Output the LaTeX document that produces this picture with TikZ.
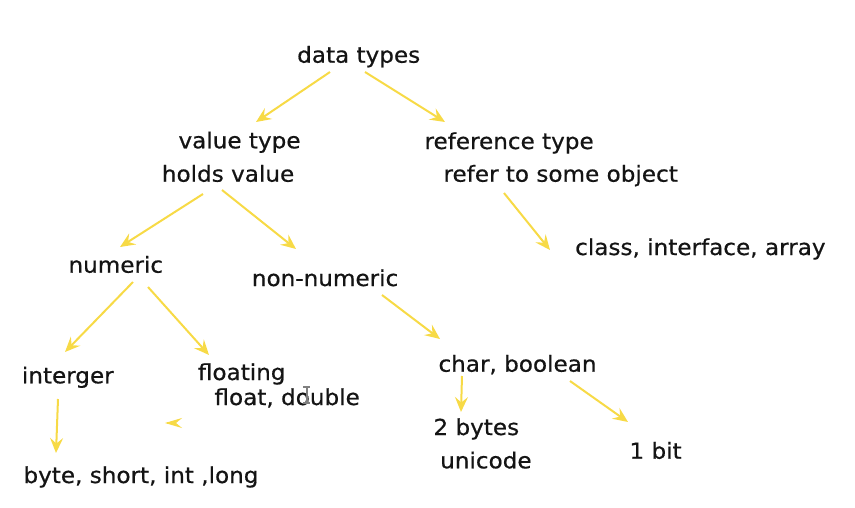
\documentclass[tikz,border=0pt]{standalone}
\usepackage{fontspec}
\setmainfont[FakeStretch=1.05, FakeBold=0.6]{DejaVu Sans}
\usetikzlibrary{arrows.meta}
\definecolor{arrowyellow}{RGB}{247,218,70}
\begin{document}
\begin{tikzpicture}[x=1pt, y=-1pt]
		\tikzset{lbl/.style={anchor=base west, inner sep=0pt, text=black!92, font=\fontsize{22}{26}\selectfont}};
		\tikzset{arr/.style={draw=arrowyellow, line width=2pt, -{Stealth[length=15pt, width=13pt, inset=5.5pt]}}};

		\useasboundingbox (0, 0) rectangle (855, 507);

		\node[lbl] (dt) at (297, 62.7) {data types};
		\node[lbl] (vt) at (178.3, 148.3) {value type};
		\node[lbl] (hv) at (161.7, 181.7) {holds value};
		\node[lbl] (rt) at (424.3, 149) {reference type};
		\node[lbl] (ro) at (443.3, 181.7) {refer to some object};
		\node[lbl] (cls) at (575, 255) {class, interface, array};
		\node[lbl] (num) at (68.3, 272.7) {numeric};
		\node[lbl] (nn) at (251.7, 286) {non-numeric};
		\node[lbl] (int) at (21.7, 383.3) {interger};
		\node[lbl] (flo) at (197.7, 380) {floating};
		\node[lbl] (fd) at (214.3, 405) {float, double};
		\node[lbl] (bsl) at (23.3, 483) {byte, short, int ,long};
		\node[lbl] (cb) at (438.3, 371.7) {char, boolean};
		\node[lbl] (tb) at (433.3, 435) {2 bytes};
		\node[lbl] (uc) at (440, 468.3) {unicode};
		\node[lbl] (bit) at (629.3, 458.7) {1 bit};

		\draw[arr] ([shift={(33, 9.3)}]dt.base west) to ([shift={(77.7, -26.3)}]vt.base west);
		\draw[arr] ([shift={(68, 9.3)}]dt.base west) to ([shift={(20.7, -27)}]rt.base west);

		\draw[arr] ([shift={(41.3, 12.3)}]hv.base west) to ([shift={(51.7, -25.7)}]num.base west);
		\draw[arr] ([shift={(60.3, 8.3)}]hv.base west) to ([shift={(44.3, -37)}]nn.base west);

		\draw[arr] ([shift={(60.7, 11.3)}]ro.base west) to ([shift={(-25, -5)}]cls.base west);

		\draw[arr] ([shift={(64.7, 9.3)}]num.base west) to ([shift={(43.3, -31.3)}]int.base west);
		\draw[arr] ([shift={(79.7, 14.3)}]num.base west) to ([shift={(11.3, -25)}]flo.base west);

		\draw[arr] ([shift={(130.3, 9)}]nn.base west) to ([shift={(1.7, -32.7)}]cb.base west);

		\draw[arr] ([shift={(36.3, 15.7)}]int.base west) to ([shift={(32.7, -30)}]bsl.base west);

		\draw[arr] ([shift={(23.7, 4.3)}]cb.base west) to ([shift={(27.7, -23)}]tb.base west);
		\draw[arr] ([shift={(131.7, 9.3)}]cb.base west) to ([shift={(-1.3, -36.7)}]bit.base west);

		% loose arrow head left of float, double
		\draw[arr, -{Stealth[length=17pt, width=10pt, inset=6pt]}] ([shift={(-47, 18)}]fd.base west) to ([shift={(-49.3, 18)}]fd.base west);

		% text cursor over double
		\draw[gray, line width=1.4pt] ([shift={(89, -18)}]fd.base west) -- +(7, 0)
			([shift={(92.5, -18)}]fd.base west) -- +(0, 16)
			([shift={(89, -2)}]fd.base west) -- +(7, 0);
	\end{tikzpicture}
\end{document}
